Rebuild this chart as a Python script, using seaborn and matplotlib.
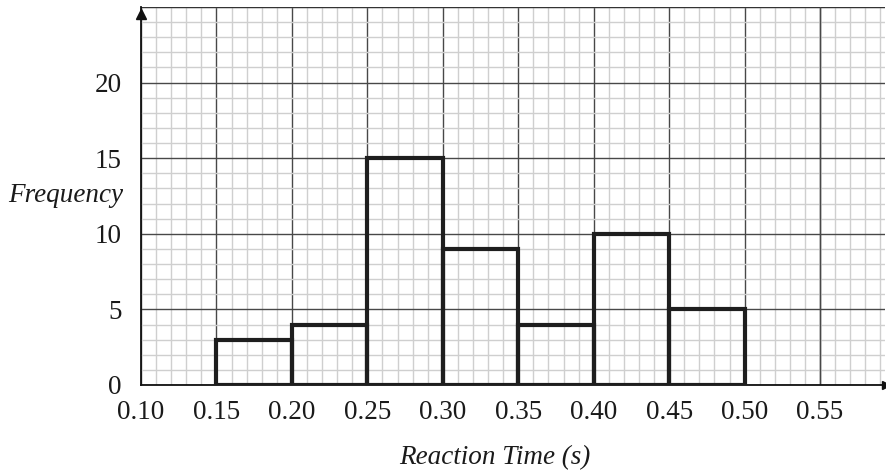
import matplotlib
matplotlib.use("Agg")
import matplotlib.pyplot as plt
import seaborn as sns
import numpy as np

# histogram data
bin_edges = [0.15, 0.20, 0.25, 0.30, 0.35, 0.40, 0.45, 0.50]
frequencies = [3, 4, 15, 9, 4, 10, 5]
x_ticks = [0.10, 0.15, 0.20, 0.25, 0.30, 0.35, 0.40, 0.45, 0.50, 0.55]
x_tick_labels = ["0.10", "0.15", "0.20", "0.25", "0.30", "0.35", "0.40", "0.45", "0.50", "0.55"]
y_ticks = [0, 5, 10, 15, 20]

sns.set_style("white")
plt.rcParams['font.family'] = ['Liberation Serif', 'DejaVu Serif']

fig = plt.figure(figsize=(8.86, 4.75), dpi=100)
ax = fig.add_axes([141/886, 1 - 385/475, 744/886, 378/475])

centers = (np.array(bin_edges[:-1]) + np.array(bin_edges[1:])) / 2
sns.histplot(x=centers, weights=frequencies, bins=bin_edges, fill=False,
             element="bars", color="#1e1e1e", linewidth=3.0, ax=ax, zorder=5)

ax.set_xlim(0.10, 0.593)
ax.set_ylim(0, 25)

# graph paper grid
ax.set_xticks(np.arange(0.10, 0.5931, 0.01), minor=True)
ax.set_yticks(np.arange(0, 25.01, 1), minor=True)
ax.set_xticks(x_ticks)
ax.set_xticklabels(x_tick_labels)
ax.set_yticks(y_ticks)
ax.grid(which="minor", color="#cfcfcf", linewidth=1.0, zorder=0)
ax.grid(which="major", color="#484848", linewidth=1.0, zorder=1)
ax.axhline(25, color="#333333", linewidth=1.0, zorder=1)
ax.axvline(0.55, color="#484848", linewidth=1.0, zorder=1)
ax.set_axisbelow(True)

ax.tick_params(which="both", length=0, labelsize=19.5, labelcolor="#1a1a1a")
ax.tick_params(axis="y", pad=14)
ax.tick_params(axis="x", pad=11)
ax.set_xlabel("")
ax.set_ylabel("")

for s in ["top", "right"]:
    ax.spines[s].set_visible(False)
for s in ["left", "bottom"]:
    ax.spines[s].set_color("#111111")
    ax.spines[s].set_linewidth(1.3)

# axis arrows
ax.plot([0.10], [24.55], marker="^", color="#111111", markersize=7,
        clip_on=False, zorder=10)
ax.plot([0.5935], [0], marker=">", color="#111111", markersize=6,
        clip_on=False, zorder=10)

fig.text(123/886, 1 - 195/475, "Frequency", ha="right", va="center",
         style="italic", fontsize=19.5, color="#1a1a1a")
fig.text(495/886, 1 - 458/475, "Reaction Time (s)", ha="center", va="center",
         style="italic", fontsize=19.5, color="#1a1a1a")

fig.savefig("out.png", dpi=100)
